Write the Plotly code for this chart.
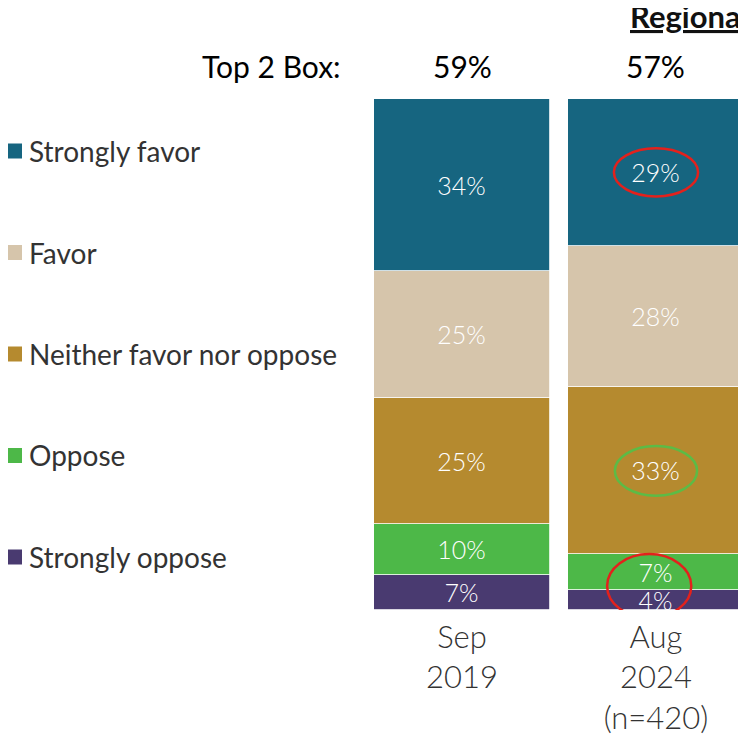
import plotly.graph_objects as go

# ---- data ----
periods = ["Sep 2019", "Aug 2024"]
period_labels = ["Sep<br>2019", "Aug<br>2024<br>(n=420)"]
categories = ["Strongly oppose", "Oppose", "Neither favor nor oppose", "Favor", "Strongly favor"]
legend_order = ["Strongly favor", "Favor", "Neither favor nor oppose", "Oppose", "Strongly oppose"]
values = {
    "Strongly favor": [34, 29],
    "Favor": [25, 28],
    "Neither favor nor oppose": [25, 33],
    "Oppose": [10, 7],
    "Strongly oppose": [7, 4],
}
top2_box = [59, 57]
colors = {
    "Strongly favor": "#166580",
    "Favor": "#D6C5AB",
    "Neither favor nor oppose": "#B58A2F",
    "Oppose": "#4DB848",
    "Strongly oppose": "#493A70",
}
FONT = "Lato"
LIGHT = 300

fig = go.Figure()
for i, cat in enumerate(categories):
    fig.add_trace(go.Bar(
        x=[0, 1], y=values[cat], name=cat,
        marker=dict(color=colors[cat], line=dict(color="white", width=0.8)),
        text=[f"{v}%" for v in values[cat]],
        textposition="inside", insidetextanchor="middle", textangle=0,
        constraintext="none",
        textfont=dict(family=FONT, size=25, color="white", weight=LIGHT),
        width=0.907, showlegend=False, hoverinfo="skip",
    ))

# cumulative positions for highlight ellipses (Aug 2024 column)
def seg_mid(col, cat):
    base = 0
    for c in categories:
        if c == cat:
            return base + values[c][col] / 2
        base += values[c][col]

shapes = []
yc = seg_mid(1, "Strongly favor")
shapes.append(dict(type="circle", xref="x", yref="y", x0=1 - 0.217, x1=1 + 0.217,
                   y0=yc - 4.75, y1=yc + 4.75, line=dict(color="#E3211C", width=2.5)))
yc = seg_mid(1, "Neither favor nor oppose")
shapes.append(dict(type="circle", xref="x", yref="y", x0=1 - 0.212, x1=1 + 0.212,
                   y0=yc - 4.9, y1=yc + 4.9, line=dict(color="#5CBB46", width=2.5)))
yc = (seg_mid(1, "Strongly oppose") + seg_mid(1, "Oppose")) / 2
shapes.append(dict(type="circle", xref="x", yref="y", x0=0.965 - 0.217, x1=0.965 + 0.217,
                   y0=yc - 6.3, y1=yc + 6.3, line=dict(color="#E3211C", width=2.5)))

annotations = [
    dict(text="Top 2 Box:", xref="paper", yref="paper", x=-0.0577, y=1.0646,
         xanchor="right", yanchor="middle", showarrow=False,
         font=dict(family=FONT, size=30, color="#000000")),
    dict(text="Regional", xref="paper", yref="paper", x=0.689, y=1.163,
         xanchor="left", yanchor="middle", showarrow=False,
         font=dict(family=FONT, size=31, color="#111111", weight="bold", lineposition="under")),
]
for i, v in enumerate(top2_box):
    annotations.append(dict(text=f"{v}%", xref="x", yref="paper", x=i, y=1.0646,
                            xanchor="center", yanchor="middle", showarrow=False,
                            font=dict(family=FONT, size=30, color="#000000")))

# legend (left side): colour key squares + labels
PLOT_L, PLOT_W, PLOT_T, PLOT_H = 357, 381, 91, 511
def px_x(fx):
    return (fx - PLOT_L) / PLOT_W
def px_y(fy):
    return (PLOT_T + PLOT_H - fy) / PLOT_H
for i, cat in enumerate(legend_order):
    cy = 143 + i * 101.5
    shapes.append(dict(type="rect", xref="paper", yref="paper",
                       x0=px_x(0), x1=px_x(14), y0=px_y(cy + 7.5), y1=px_y(cy - 7.5),
                       fillcolor=colors[cat], line=dict(width=0)))
    annotations.append(dict(text=cat, xref="paper", yref="paper", x=px_x(19), y=px_y(cy),
                            xanchor="left", yanchor="middle", showarrow=False,
                            font=dict(family=FONT, size=28, color="#333333")))

fig.update_layout(
    width=738, height=731,
    margin=dict(l=PLOT_L, r=0, t=PLOT_T, b=129, pad=0),
    barmode="stack", bargap=0,
    paper_bgcolor="white", plot_bgcolor="white",
    showlegend=False,
    xaxis=dict(range=[-0.5, 1.464], tickvals=[0, 1], ticktext=period_labels,
               tickfont=dict(family=FONT, size=31, color="#333333", weight=LIGHT),
               ticklabelstandoff=6,
               showgrid=False, zeroline=False, showline=False, ticks=""),
    yaxis=dict(range=[0, 101], visible=False, showgrid=False, zeroline=False),
    shapes=shapes, annotations=annotations,
    uniformtext=dict(mode="show", minsize=25),
)

fig.write_html("out.html")
